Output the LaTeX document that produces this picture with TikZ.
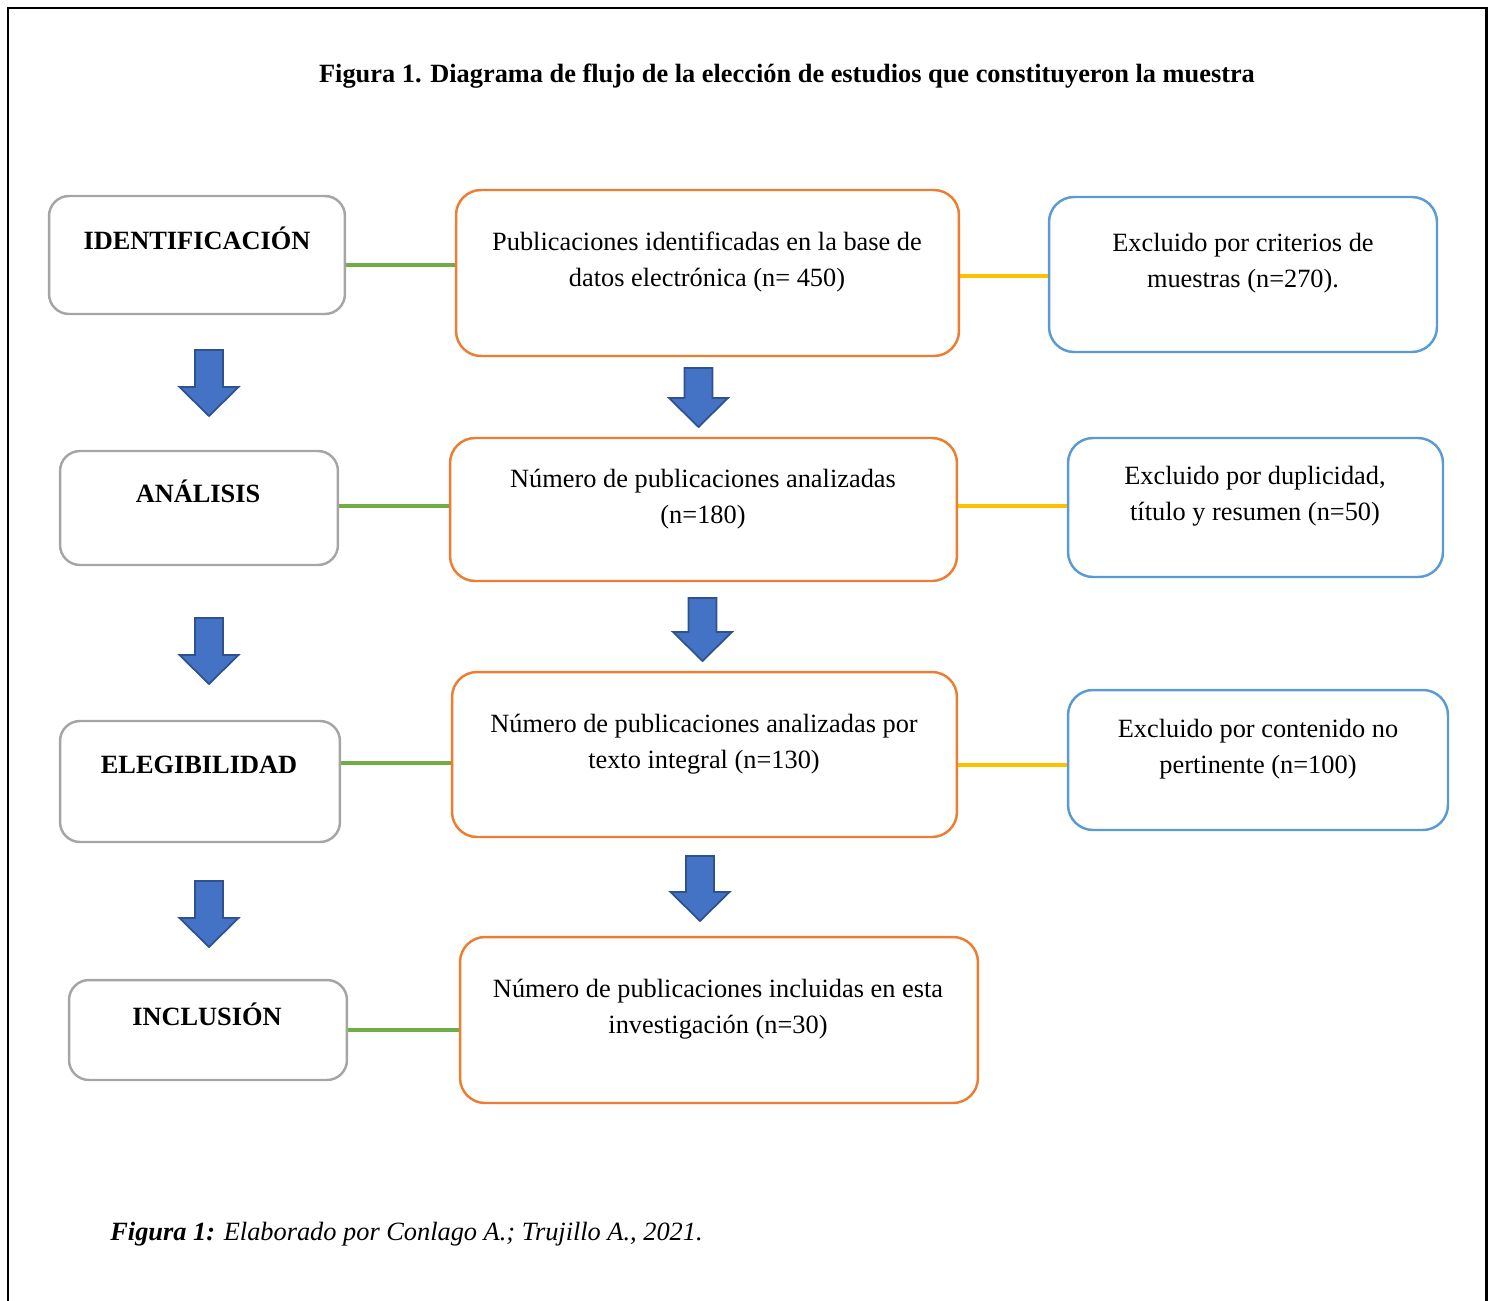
\documentclass[tikz,border=0pt]{standalone}
\usepackage{fontspec}
\setmainfont{Liberation Serif}
\usetikzlibrary{backgrounds,calc}
\pgfdeclarelayer{edgelayer}
\pgfdeclarelayer{nodelayer}
\pgfsetlayers{edgelayer,nodelayer,main}
\definecolor{stagegray}{HTML}{A5A5A5}
\definecolor{recorange}{HTML}{ED7D31}
\definecolor{exclblue}{HTML}{5B9BD5}
\definecolor{linkgreen}{HTML}{70AD47}
\definecolor{linkyellow}{HTML}{FFC000}
\definecolor{arrowfill}{HTML}{4472C4}
\definecolor{arrowedge}{HTML}{2F528F}
\tikzset{font=\fontsize{15}{20.5}\selectfont}
\tikzstyle{none}=[inner sep=0pt, align=center]
\tikzstyle{stage}=[rectangle, draw=stagegray, line width=1.4pt, inner sep=0pt, rounded corners=0.4cm]
\tikzstyle{record}=[rectangle, draw=recorange, line width=1.4pt, inner sep=0pt, rounded corners=0.5cm]
\tikzstyle{excluded}=[rectangle, draw=exclblue, line width=1.4pt, inner sep=0pt, rounded corners=0.5cm]
\tikzstyle{greenlink}=[draw=linkgreen, line width=2pt]
\tikzstyle{yellowlink}=[draw=linkyellow, line width=2pt]
\tikzstyle{blockarrow}=[fill=arrowfill, draw=arrowedge, line width=1pt, line join=miter]
% block arrow pointing down: x, top y, shaft length
\newcommand{\blockarrowat}[3]{\draw[style=blockarrow] (#1,#2) ++(-14,0) -- ++(28,0) -- ++(0,#3) -- ++(15.5,0) -- ++(-29.5,29) -- ++(-29.5,-29) -- ++(15.5,0) -- cycle;}

\begin{document}
\begin{tikzpicture}[x=0.02cm, y=-0.02cm]
	\useasboundingbox (0,0) rectangle (1494,1301);
	\draw[line width=1.7pt] (8,8) rectangle (1486,1330);
	\node [style=none, font=\fontsize{15}{20.5}\selectfont\bfseries] (title) at (787,76) {Figura 1. Diagrama de flujo de la elección de estudios que constituyeron la muestra};
	\begin{pgfonlayer}{nodelayer}
		% stages
		\node [style=stage, minimum width=5.92cm, minimum height=2.36cm] (0) at (197, 255) {};
		\node [style=stage, minimum width=5.56cm, minimum height=2.28cm] (1) at (199, 508) {};
		\node [style=stage, minimum width=5.6cm, minimum height=2.42cm] (2) at (200, 781.5) {};
		\node [style=stage, minimum width=5.56cm, minimum height=2cm] (3) at (208, 1030) {};
		% records
		\node [style=record, minimum width=10.06cm, minimum height=3.32cm] (4) at (707.5, 273) {};
		\node [style=record, minimum width=10.14cm, minimum height=2.86cm] (5) at (703.5, 509.5) {};
		\node [style=record, minimum width=10.1cm, minimum height=3.3cm] (6) at (704.5, 754.5) {};
		\node [style=record, minimum width=10.36cm, minimum height=3.32cm] (7) at (719, 1020) {};
		% excluded
		\node [style=excluded, minimum width=7.76cm, minimum height=3.1cm] (8) at (1243, 274.5) {};
		\node [style=excluded, minimum width=7.5cm, minimum height=2.78cm] (9) at (1255.5, 507.5) {};
		\node [style=excluded, minimum width=7.6cm, minimum height=2.8cm] (10) at (1258, 760) {};
		% texts
		\node [style=none, font=\fontsize{15}{20.5}\selectfont\bfseries] (11) at (197, 238) {IDENTIFICACIÓN};
		\node [style=none, font=\fontsize{15}{20.5}\selectfont\bfseries] (12) at (198, 491) {ANÁLISIS};
		\node [style=none, font=\fontsize{15}{20.5}\selectfont\bfseries] (13) at (199, 765) {ELEGIBILIDAD};
		\node [style=none, font=\fontsize{15}{20.5}\selectfont\bfseries] (14) at (207, 1014) {INCLUSIÓN};
		\node [style=none] (15) at (707, 262) {Publicaciones identificadas en la base de\\datos electrónica (n= 450)};
		\node [style=none] (16) at (703, 499) {Número de publicaciones analizadas\\(n=180)};
		\node [style=none] (17) at (704, 744) {Número de publicaciones analizadas por\\texto integral (n=130)};
		\node [style=none] (18) at (718, 1009) {Número de publicaciones incluidas en esta\\investigación (n=30)};
		\node [style=none] (19) at (1243, 263) {Excluido por criterios de\\muestras (n=270).};
		\node [style=none] (20) at (1255, 496) {Excluido por duplicidad,\\título y resumen (n=50)};
		\node [style=none] (21) at (1258, 749) {Excluido por contenido no\\pertinente (n=100)};
		\node [style=none, anchor=west] (22) at (110, 1234) {\textbf{\textit{Figura 1:}} \textit{Elaborado por Conlago A.; Trujillo A., 2021.}};
	\end{pgfonlayer}
	\begin{pgfonlayer}{edgelayer}
		\draw[style=greenlink] ([yshift=-5.7pt]0.east) to ([yshift=-5.7pt]0.east -| 4.west);
		\draw[style=greenlink] ([yshift=1.1pt]1.east) to ([yshift=1.1pt]1.east -| 5.west);
		\draw[style=greenlink] ([yshift=10.5pt]2.east) to ([yshift=10.5pt]2.east -| 6.west);
		\draw[style=greenlink] (3.east) to (3.east -| 7.west);
		\draw[style=yellowlink] ([yshift=-1.7pt]4.east) to ([yshift=-1.7pt]4.east -| 8.west);
		\draw[style=yellowlink] ([yshift=2pt]5.east) to ([yshift=2pt]5.east -| 9.west);
		\draw[style=yellowlink] ([yshift=-6pt]6.east) to ([yshift=-6pt]6.east -| 10.west);
	\end{pgfonlayer}
	\blockarrowat{209}{350}{37}
	\blockarrowat{209}{618}{37}
	\blockarrowat{209}{881}{37}
	\blockarrowat{698.5}{368}{30}
	\blockarrowat{702.5}{598}{34}
	\blockarrowat{700}{856}{36}
\end{tikzpicture}
\end{document}
